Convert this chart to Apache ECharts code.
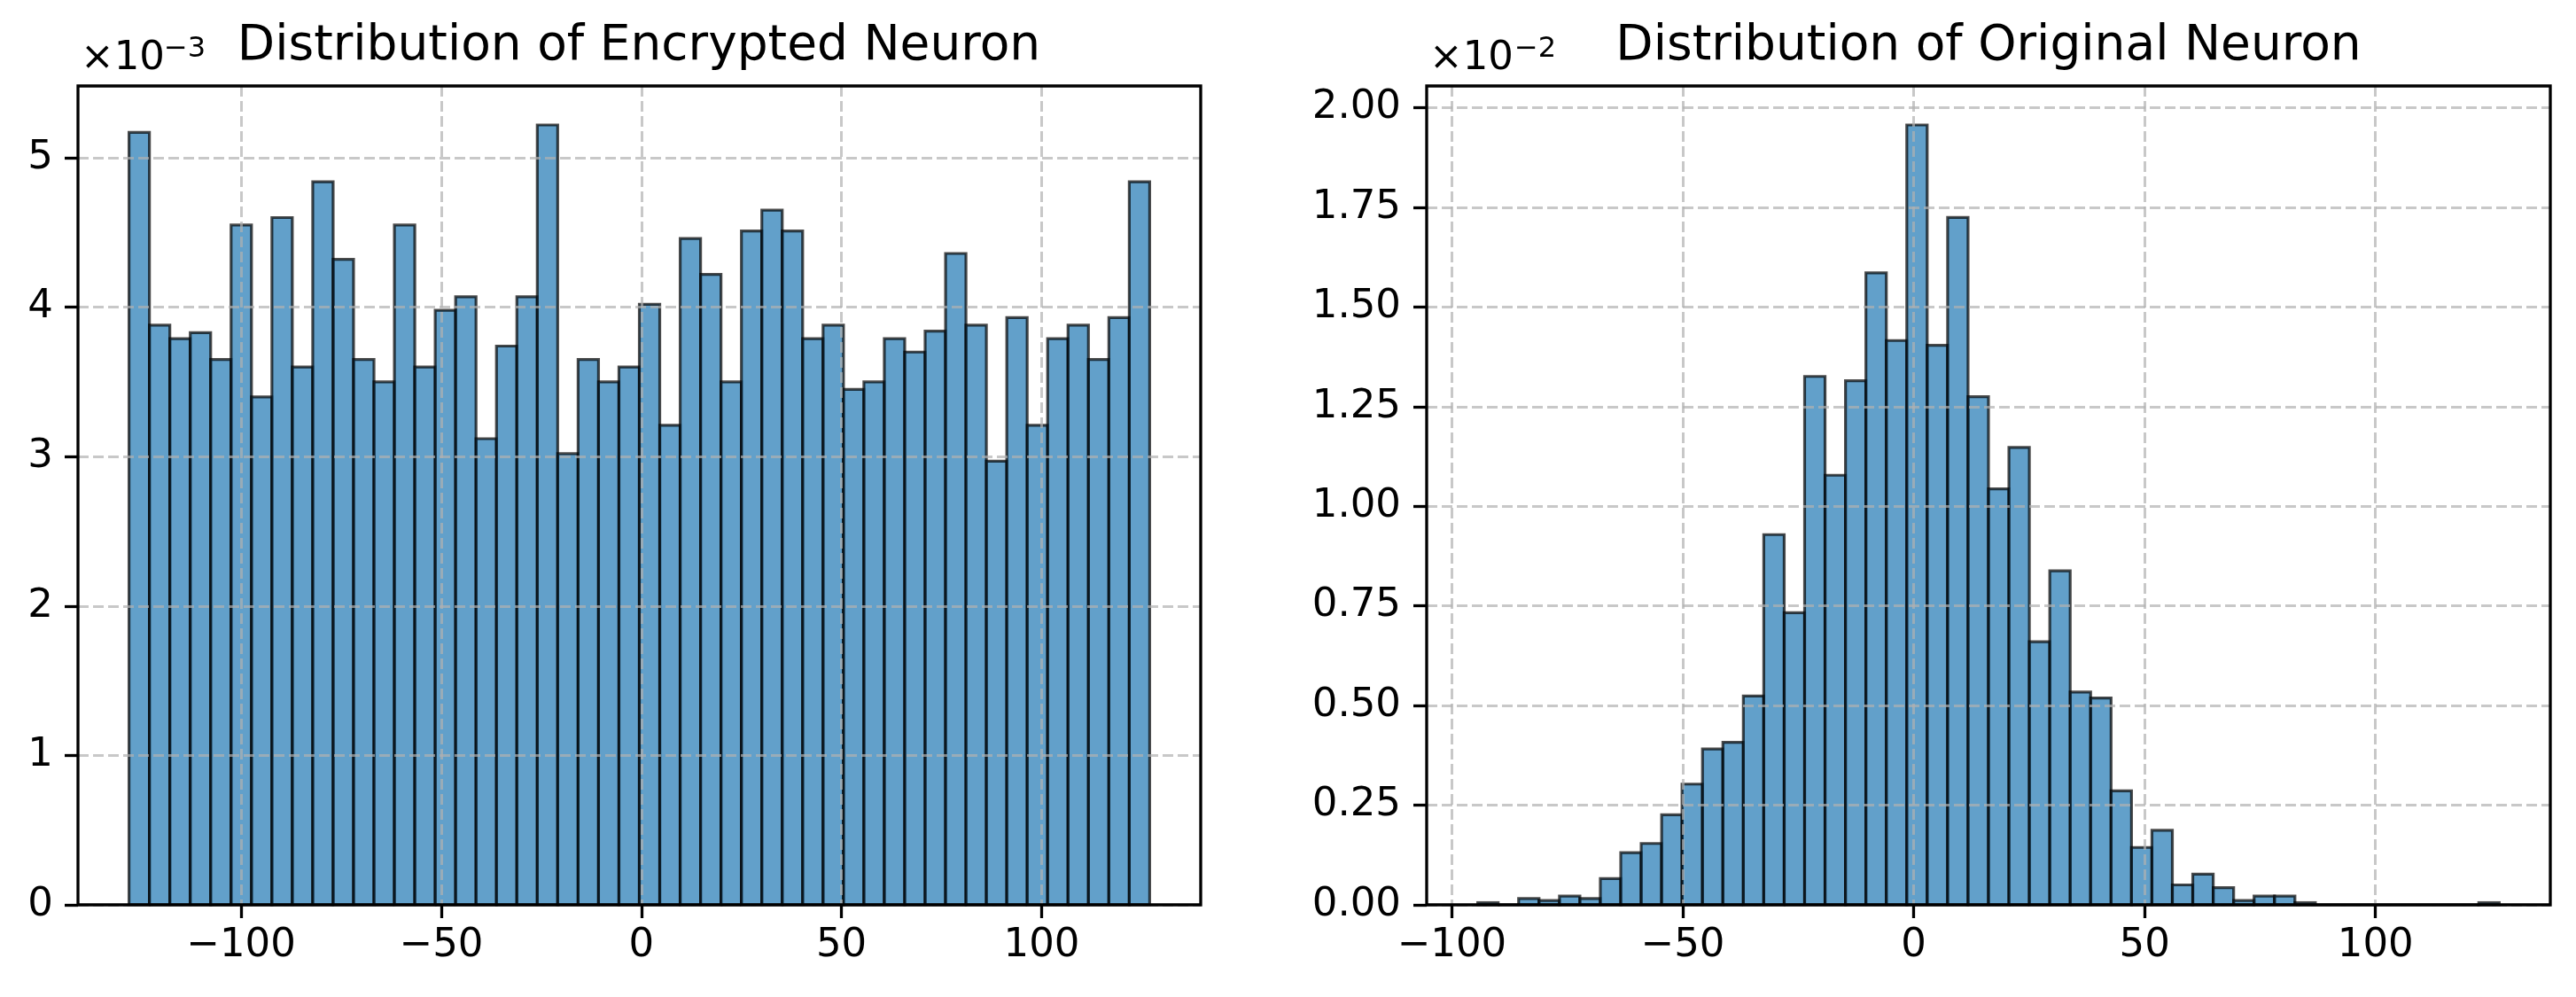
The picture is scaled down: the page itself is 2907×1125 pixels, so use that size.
<!DOCTYPE html>
<html><head><meta charset="utf-8">
<script src="https://cdn.jsdelivr.net/npm/echarts@6/dist/echarts.min.js"></script>
<style>html,body{margin:0;padding:0;background:#fff}#c{width:2907px;height:1125px}</style>
</head><body><div id="c"></div>
<script>
// ---- data ----
const encTitle = 'Distribution of Encrypted Neuron';
const origTitle = 'Distribution of Original Neuron';
const encRange = [-128, 127];          // histogram data range (50 bins)
const origRange = [-94.4, 126.8];
// density values, in units of 1e-3
const encDensity = [5.17, 3.88, 3.79, 3.83, 3.65, 4.55, 3.40, 4.60, 3.60, 4.84,
  4.32, 3.65, 3.50, 4.55, 3.60, 3.98, 4.07, 3.12, 3.74, 4.07,
  5.22, 3.02, 3.65, 3.50, 3.60, 4.02, 3.21, 4.46, 4.22, 3.50,
  4.51, 4.65, 4.51, 3.79, 3.88, 3.45, 3.50, 3.79, 3.70, 3.84,
  4.36, 3.88, 2.97, 3.93, 3.21, 3.79, 3.88, 3.65, 3.93, 4.84];
// density values, in units of 1e-2
const origDensity = [0.0055, 0, 0.016, 0.011, 0.022, 0.016, 0.066, 0.131, 0.154, 0.226,
  0.303, 0.391, 0.408, 0.524, 0.929, 0.733, 1.326, 1.078, 1.315, 1.586,
  1.416, 1.957, 1.404, 1.725, 1.275, 1.044, 1.148, 0.660, 0.838, 0.534,
  0.519, 0.286, 0.144, 0.187, 0.050, 0.077, 0.043, 0.011, 0.022, 0.022,
  0.0055, 0, 0, 0, 0, 0, 0, 0, 0, 0.0055];
const encXTicks = [-100, -50, 0, 50, 100];
const origXTicks = [-100, -50, 0, 50, 100];
const encYTicks = [0, 1, 2, 3, 4, 5];
const origYTicks = [0, 0.25, 0.5, 0.75, 1.0, 1.25, 1.5, 1.75, 2.0];
const encExp = '\u22123';
const origExp = '\u22122';

// ---- helpers ----
const FONT = 'DejaVu Sans';
function pad(r) { const m = (r[1] - r[0]) * 0.05; return [r[0] - m, r[1] + m]; }
function binned(range, vals) {
  const w = (range[1] - range[0]) / vals.length;
  return vals.map((v, i) => [range[0] + i * w, range[0] + (i + 1) * w, v]);
}
const gridLine = { show: true, lineStyle: { color: 'rgba(176,176,176,0.7)', width: 3, type: [12, 5] } };
const tickStyle = { color: '#000', width: 3.3 };
function xAx(idx, range, ticks) {
  const e = pad(range);
  return {
    type: 'value', gridIndex: idx, min: e[0], max: e[1], z: 3,
    axisLine: { show: false, onZero: false },
    axisTick: { show: true, length: 15, lineStyle: tickStyle, customValues: ticks },
    axisLabel: { customValues: ticks, fontFamily: FONT, fontSize: 45, color: '#000', margin: 24,
      formatter: v => String(v).replace('-', '\u2212') },
    splitLine: gridLine
  };
}
function yAx(idx, maxV, ticks, dec, margin) {
  return {
    type: 'value', gridIndex: idx, min: 0, max: maxV, z: 3,
    axisLine: { show: false, onZero: false },
    axisTick: { show: true, length: 15, lineStyle: tickStyle, customValues: ticks },
    axisLabel: { customValues: ticks, fontFamily: FONT, fontSize: 45, color: '#000', margin: margin,
      formatter: v => v.toFixed(dec) },
    splitLine: gridLine
  };
}
function hist(idx, range, vals) {
  return {
    type: 'custom', xAxisIndex: idx, yAxisIndex: idx, z: 2,
    data: binned(range, vals), encode: { x: [0, 1], y: 2 },
    renderItem: function (params, api) {
      const p0 = api.coord([api.value(0), 0]);
      const p1 = api.coord([api.value(1), api.value(2)]);
      return { type: 'rect',
        shape: { x: p0[0], y: p1[1], width: p1[0] - p0[0], height: p0[1] - p1[1] },
        style: { fill: 'rgba(31,119,180,0.7)', stroke: 'rgba(0,0,0,0.7)', lineWidth: 3.2 } };
    }
  };
}
const encMax = Math.max(...encDensity) * 1.05;
const origMax = Math.max(...origDensity) * 1.05;
const titleStyle = { fontFamily: FONT, fontSize: 55, fontWeight: 'normal', color: '#000' };

const chart = echarts.init(document.getElementById('c'), null, { renderer: 'canvas' });
chart.setOption({
  backgroundColor: '#fff',
  animation: false,
  title: [
    { text: encTitle, left: 721, top: 25, textAlign: 'center', padding: 0, textStyle: titleStyle },
    { text: origTitle, left: 2244, top: 25, textAlign: 'center', padding: 0, textStyle: titleStyle }
  ],
  grid: [
    { left: 88, right: 1552, top: 97, bottom: 104, show: true, z: 5,
      backgroundColor: 'transparent', borderColor: '#000', borderWidth: 3.3 },
    { left: 1610, right: 29, top: 97, bottom: 104, show: true, z: 5,
      backgroundColor: 'transparent', borderColor: '#000', borderWidth: 3.3 }
  ],
  xAxis: [xAx(0, encRange, encXTicks), xAx(1, origRange, origXTicks)],
  yAxis: [yAx(0, encMax, encYTicks, 0, 28), yAx(1, origMax, origYTicks, 2, 29)],
  series: [hist(0, encRange, encDensity), hist(1, origRange, origDensity)],
  graphic: [
    { type: 'text', left: 91, top: 44, style: { text: '\u00d710', fontFamily: FONT, fontSize: 45, fill: '#000' } },
    { type: 'text', left: 185, top: 40, style: { text: encExp, fontFamily: FONT, fontSize: 32, fill: '#000' } },
    { type: 'text', left: 1613, top: 44, style: { text: '\u00d710', fontFamily: FONT, fontSize: 45, fill: '#000' } },
    { type: 'text', left: 1709, top: 40, style: { text: origExp, fontFamily: FONT, fontSize: 32, fill: '#000' } }
  ]
});
</script></body></html>
